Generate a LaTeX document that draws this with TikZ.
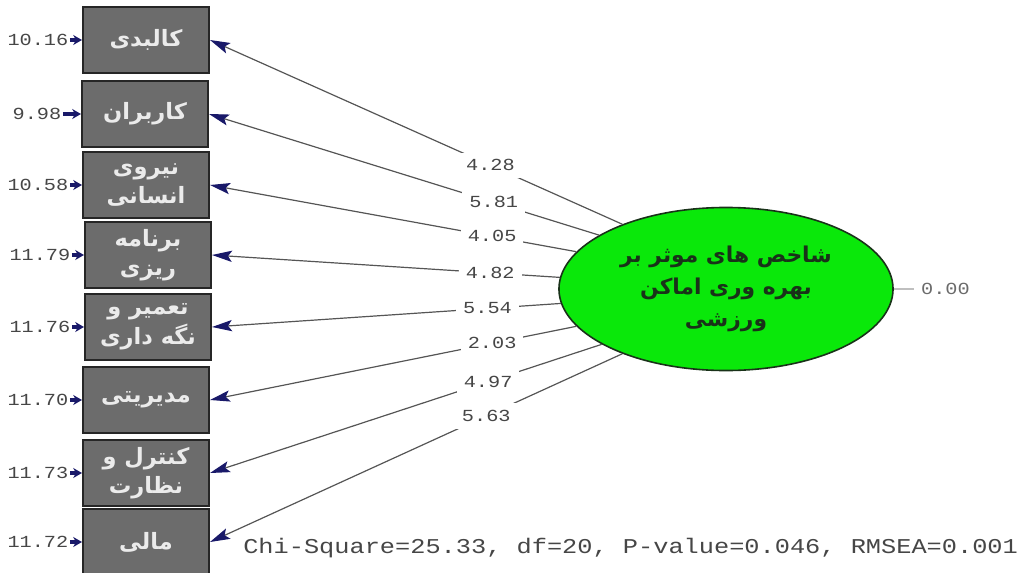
\documentclass[tikz,border=0pt]{standalone}
\usepackage{fontspec}
\usetikzlibrary{arrows.meta,positioning,shapes.geometric}
\TeXXeTstate=1
\newfontfamily\arabicfont[Script=Arabic]{DejaVu Sans}
\newfontfamily\numfont[FakeStretch=1.2]{Liberation Mono}
\definecolor{boxgray}{RGB}{108,108,108}
\definecolor{latgreen}{RGB}{10,232,10}
\definecolor{navyhead}{RGB}{25,25,105}
\definecolor{linegray}{RGB}{85,85,85}
\definecolor{numgray}{RGB}{70,70,70}
\definecolor{darkgreen}{RGB}{25,50,25}

\begin{document}
\begin{tikzpicture}[x=0.025cm, y=-0.025cm]
	\tikzstyle{obs}=[rectangle, draw=black!85, line width=0.05cm, fill=boxgray, text=white!92!black, minimum width=3.15cm, minimum height=1.625cm, align=center, font=\arabicfont\bfseries\fontsize{16}{21}\selectfont];
	\tikzstyle{err}=[inner sep=1pt, text=numgray, font=\numfont\fontsize{12}{14}\selectfont];
	\tikzstyle{coef}=[fill=white, inner sep=5pt, text=numgray, font=\numfont\fontsize{12}{14}\selectfont];
	\tikzstyle{load}=[draw=linegray, line width=0.03cm, -{Stealth[length=0.5cm, width=0.28cm, inset=0.1cm, color=navyhead]}];
	\tikzstyle{stub}=[draw=navyhead, line width=0.08cm, -{Stealth[length=0.22cm, width=0.25cm, color=navyhead]}];

   \useasboundingbox (0,0) rectangle (1022,573);
   \clip (0,0) rectangle (1022,573);

   \node[obs] (m1) at (146,40)  {\beginR کالبدی\endR};
   \node[obs] (m2) at (145,114) {\beginR کاربران\endR};
   \node[obs] (m3) at (146,185) {\beginR نیروی\endR\\\beginR انسانی\endR};
   \node[obs] (m4) at (148,255) {\beginR برنامه\endR\\\beginR ریزی\endR};
   \node[obs] (m5) at (148,327) {\beginR تعمیر و\endR\\\beginR نگه داری\endR};
   \node[obs] (m6) at (146,400) {\beginR مدیریتی\endR};
   \node[obs] (m7) at (146,473) {\beginR کنترل و\endR\\\beginR نظارت\endR};
   \node[obs] (m8) at (146,542) {\beginR مالی\endR};

   \node[ellipse, draw=darkgreen, line width=0.04cm, fill=latgreen, minimum width=8.35cm, minimum height=4.075cm, inner sep=0pt, align=center, text=darkgreen, font=\arabicfont\bfseries\fontsize{15.5}{23}\selectfont] (f) at (726,289)
      {\beginR شاخص های موثر بر\endR\\\beginR بهره وری اماکن\endR\\\beginR ورزشی\endR};

   % error variances
   \node[err, left=0.3cm of m1] (e1) {10.16};
   \node[err, left=0.45cm of m2] (e2) {9.98};
   \node[err, left=0.3cm of m3] (e3) {10.58};
   \node[err, left=0.3cm of m4] (e4) {11.79};
   \node[err, left=0.3cm of m5] (e5) {11.76};
   \node[err, left=0.3cm of m6] (e6) {11.70};
   \node[err, left=0.3cm of m7] (e7) {11.73};
   \node[err, left=0.3cm of m8] (e8) {11.72};
   \draw (e1) edge[stub] (m1) (e2) edge[stub] (m2) (e3) edge[stub] (m3) (e4) edge[stub] (m4);
   \draw (e5) edge[stub] (m5) (e6) edge[stub] (m6) (e7) edge[stub] (m7) (e8) edge[stub] (m8);

   % loadings
   \draw (f.148) edge[load] node[coef, pos=0.32] {4.28} (m1.east);
   \draw (f.157) edge[load] node[coef, pos=0.27] {5.81} (m2.east);
   \draw (f.166) edge[load] node[coef, pos=0.23] {4.05} (m3.east);
   \draw (f.176) edge[load] node[coef, pos=0.20] {4.82} (m4.east);
   \draw (f.185) edge[load] node[coef, pos=0.21] {5.54} (m5.east);
   \draw (f.194) edge[load] node[coef, pos=0.23] {2.03} (m6.east);
   \draw (f.204) edge[load] node[coef, pos=0.29] {4.97} (m7.east);
   \draw (f.212) edge[load] node[coef, pos=0.33] {5.63} (m8.east);

   \node[coef, text=numgray!80, right=0.5cm of f] (z) {0.00};
   \draw[draw=gray!50, line width=0.03cm] (f) -- (z);

   \node[anchor=west, inner sep=0pt, text=numgray, font=\numfont\fontsize{15}{18}\selectfont] (fit) at (243,548) {Chi-Square=25.33, df=20, P-value=0.046, RMSEA=0.001};

\end{tikzpicture}
\end{document}
